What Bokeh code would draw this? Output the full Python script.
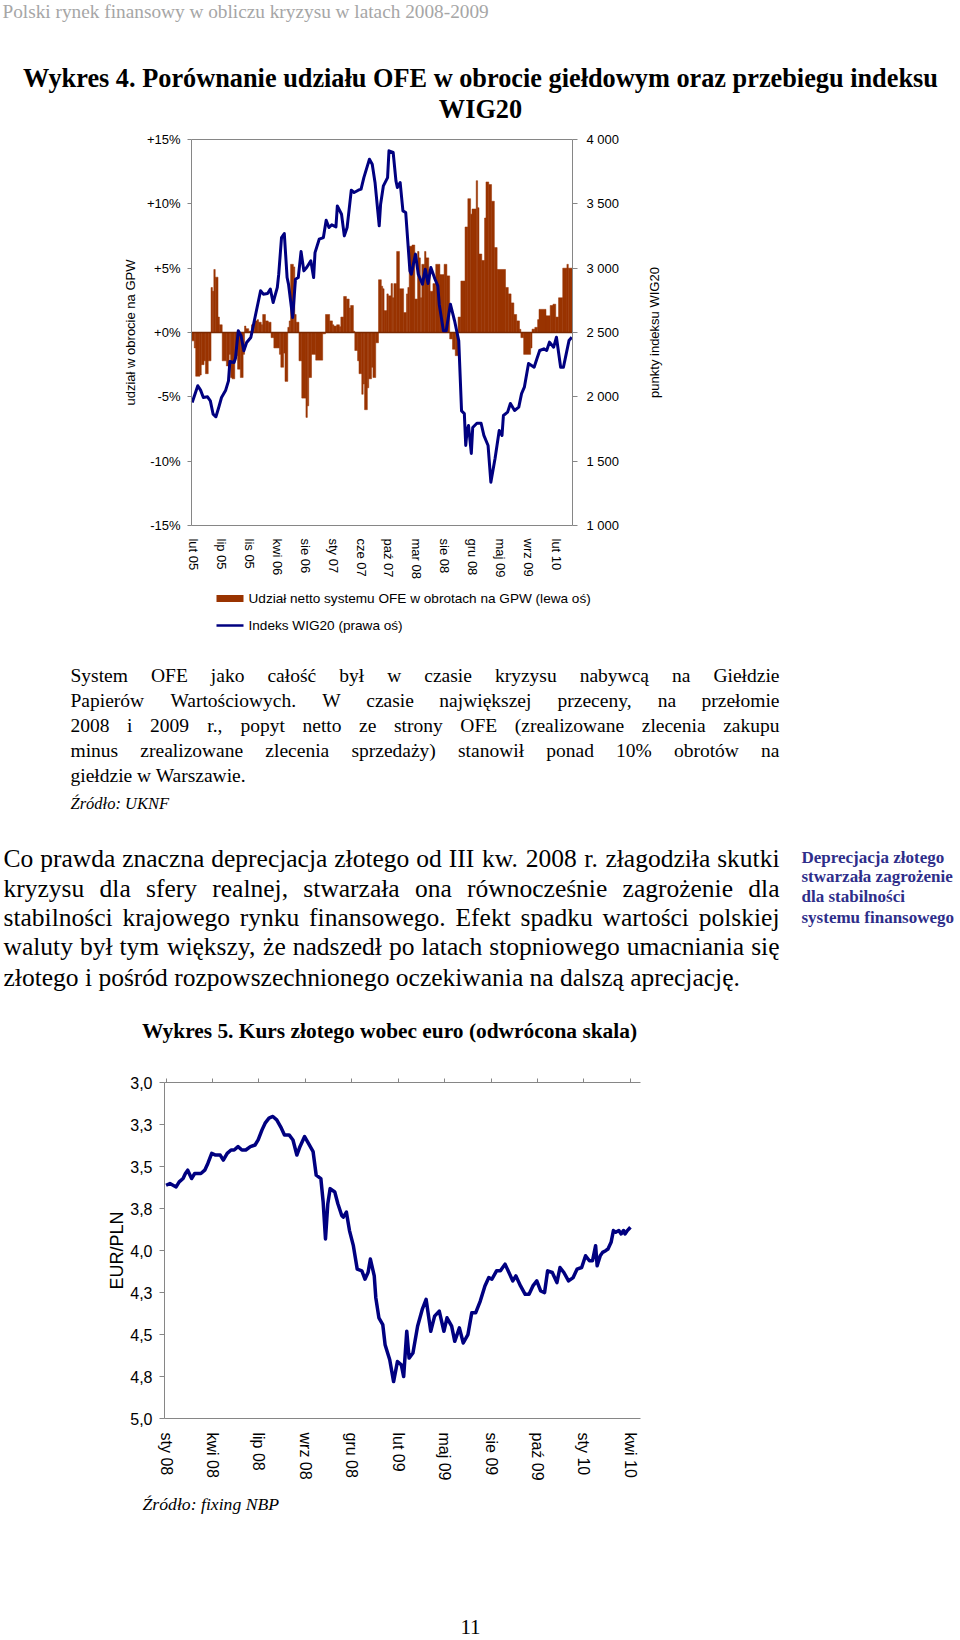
import math
from bokeh.plotting import figure
from bokeh.models import Range1d, LinearAxis, FixedTicker, ColumnDataSource
from bokeh.embed import file_html
from bokeh.resources import INLINE
from bokeh.core.properties import value

# ---------------- DATA ----------------
# Chart 1: weekly category axis (week index from Feb 2005)
X1_LABELS = ["lut 05", "lip 05", "lis 05", "kwi 06", "sie 06", "sty 07", "cze 07",
             "paź 07", "mar 08", "sie 08", "gru 08", "maj 09", "wrz 09", "lut 10"]
N_WEEKS = 273
LEFT_TICKS = [-15, -10, -5, 0, 5, 10, 15]
LEFT_LABELS = ["-15%", "-10%", "-5%", "+0%", "+5%", "+10%", "+15%"]
RIGHT_TICKS = [1000, 1500, 2000, 2500, 3000, 3500, 4000]
RIGHT_LABELS = ["1 000", "1 500", "2 000", "2 500", "3 000", "3 500", "4 000"]

# net share of OFE in GPW turnover (%), step segments: (start week, value)
OFE_SHARE = [(0, -0.65), (2, -1.2), (3, -3.4), (6, -3.3), (7, -2.5), (9, -2.2), (10, -3.2), (12, -2.2),
             (14, 3.5), (15, 3.2), (16, 4.9), (17, 4.3), (19, 1.2), (20, 0.6), (22, -2.2), (25, -2.6),
             (27, -1.7), (28, -3.5), (29, -3.6), (31, -1.8), (33, -2.85), (35, -3.5), (37, -1.7),
             (38, 0.5), (39, 0.3), (41, 0.1), (43, 0.6), (45, 0.9), (47, 1.0), (48, 0.8), (50, 0.6),
             (51, 1.4), (53, 0.9), (55, 0.8), (57, -0.4), (59, -1.2), (63, -1.7), (64, -2.7), (66, -1.6),
             (67, -3.8), (69, 0.4), (70, 0.9), (71, 5.3), (73, 5.1), (74, 1.4), (75, 0.8), (77, -2.2),
             (79, -5.1), (82, -6.6), (83, -5.7), (84, -3.5), (86, -1.7), (89, -2.15), (94, -0.1),
             (96, 1.4), (99, 0.9), (101, 0.6), (102, 0.5), (104, 0.6), (106, 0.45), (107, 1.2),
             (109, 2.8), (111, 2.6), (113, 1.9), (114, 2.1), (116, 0.1), (117, -1.4), (119, -2.2),
             (120, -3.2), (122, -4.8), (123, -4.0), (124, -6.0), (126, -4.3), (127, -3.6), (129, -2.7),
             (130, -3.5), (132, -0.8), (134, 4.1), (136, 3.6), (137, 3.4), (138, 1.7), (140, 3.0),
             (141, 2.85), (143, 3.8), (144, 2.7), (145, 3.8), (147, 6.3), (149, 3.4), (152, 1.55),
             (154, 3.0), (155, 3.5), (156, 6.7), (158, 6.8), (160, 2.6), (162, 6.3), (163, 5.8),
             (164, 2.7), (165, 5.3), (167, 6.3), (168, 5.8), (170, 4.9), (171, 3.2), (173, 3.8),
             (175, 5.3), (178, 4.5), (181, 5.3), (183, 4.4), (185, -0.5), (187, -1.3), (189, -1.8),
             (191, 1.2), (193, 4.0), (196, 8.2), (198, 10.4), (200, 9.2), (201, 9.6), (204, 11.8),
             (205, 9.7), (206, 6.1), (208, 5.6), (210, 8.9), (211, 11.7), (213, 11.5), (215, 10.2),
             (217, 6.6), (219, 4.9), (225, 3.5), (227, 3.0), (229, 2.3), (231, 1.4), (233, 0.9),
             (235, 0.25), (236, -0.4), (238, -1.7), (243, -1.2), (244, 0.26), (246, 0.4), (248, 1.0),
             (249, 1.8), (254, 1.3), (257, 2.1), (259, 2.2), (261, 1.2), (263, 2.7), (266, 5.0),
             (269, 5.3), (270, 5.0)]

# WIG20 index points: (week, level)
WIG20 = [(0, 1956), (4, 2086), (6, 2052), (8, 1995), (11, 2000), (13, 1969), (15, 1865), (17, 1845),
         (19, 1917), (21, 1995), (24, 2052), (26, 2124), (27, 2275), (30, 2267), (31, 2300), (33, 2513),
         (35, 2474), (37, 2358), (39, 2422), (42, 2461), (45, 2617), (49, 2824), (51, 2798), (54, 2803),
         (56, 2837), (58, 2733), (61, 2850), (62, 2953), (64, 3238), (66, 3269), (68, 2927), (69, 2876),
         (72, 2617), (74, 2914), (76, 2927), (78, 3129), (80, 2979), (82, 3005), (85, 3057), (87, 2927),
         (88, 3121), (91, 3225), (94, 3238), (96, 3373), (98, 3316), (100, 3337), (103, 3321),
         (104, 3484), (107, 3419), (109, 3251), (111, 3316), (114, 3606), (116, 3588), (119, 3606),
         (121, 3614), (123, 3704), (127, 3847), (129, 3808), (131, 3666), (134, 3329), (135, 3497),
         (137, 3640), (140, 3704), (141, 3912), (144, 3899), (146, 3678), (147, 3627), (149, 3666),
         (151, 3445), (153, 3432), (156, 2979), (157, 2953), (160, 3109), (162, 2953), (165, 2876),
         (167, 2992), (169, 2881), (171, 3005), (174, 2914), (176, 2863), (177, 2720), (180, 2513),
         (182, 2513), (185, 2720), (188, 2591), (191, 2435), (193, 1891), (195, 1870), (196, 1622),
         (197, 1739), (198, 1777), (200, 1560), (201, 1762), (204, 1795), (207, 1795), (209, 1700),
         (212, 1622), (214, 1337), (217, 1520), (220, 1739), (222, 1700), (223, 1855), (226, 1881),
         (228, 1948), (231, 1894), (234, 1920), (236, 2025), (238, 2075), (241, 2259), (245, 2230),
         (247, 2296), (249, 2360), (252, 2373), (254, 2360), (256, 2425), (259, 2386), (261, 2463),
         (264, 2230), (266, 2230), (268, 2334), (270, 2438), (272, 2463)]

# Chart 2: EUR/PLN fixing, business-day index from Jan 2008
X2_LABELS = ["sty 08", "kwi 08", "lip 08", "wrz 08", "gru 08", "lut 09", "maj 09",
             "sie 09", "paź 09", "sty 10", "kwi 10"]
Y2_TICKS = [3.0, 3.25, 3.5, 3.75, 4.0, 4.25, 4.5, 4.75, 5.0]
Y2_LABELS = ["3,0", "3,3", "3,5", "3,8", "4,0", "4,3", "4,5", "4,8", "5,0"]
EURPLN = [(0, 3.61), (5, 3.60), (9, 3.61), (13, 3.62), (17, 3.59), (22, 3.57), (25, 3.54), (28, 3.52),
          (31, 3.55), (33, 3.57), (37, 3.54), (40, 3.54), (45, 3.54), (50, 3.52), (54, 3.48), (59, 3.42),
          (64, 3.43), (70, 3.43), (74, 3.46), (79, 3.42), (84, 3.40), (88, 3.40), (93, 3.38), (98, 3.40),
          (103, 3.40), (109, 3.38), (115, 3.37), (119, 3.34), (124, 3.28), (128, 3.24), (133, 3.21),
          (138, 3.20), (143, 3.22), (149, 3.27), (153, 3.31), (159, 3.31), (164, 3.34), (169, 3.43),
          (173, 3.38), (179, 3.32), (184, 3.36), (190, 3.41), (194, 3.55), (200, 3.57), (203, 3.71),
          (206, 3.93), (209, 3.72), (212, 3.63), (218, 3.65), (222, 3.72), (227, 3.79), (229, 3.80),
          (233, 3.77), (237, 3.88), (242, 3.97), (247, 4.11), (253, 4.12), (257, 4.17), (261, 4.13),
          (264, 4.05), (269, 4.15), (271, 4.28), (275, 4.40), (280, 4.44), (283, 4.56), (289, 4.65),
          (294, 4.78), (299, 4.66), (304, 4.68), (307, 4.75), (311, 4.48), (314, 4.64), (319, 4.61),
          (325, 4.45), (331, 4.35), (336, 4.29), (342, 4.48), (347, 4.39), (353, 4.36), (359, 4.48),
          (363, 4.40), (369, 4.45), (373, 4.54), (379, 4.46), (384, 4.55), (390, 4.50), (395, 4.37),
          (400, 4.37), (406, 4.30), (412, 4.21), (417, 4.16), (421, 4.17), (427, 4.12), (432, 4.12),
          (438, 4.08), (443, 4.13), (448, 4.18), (452, 4.15), (458, 4.21), (464, 4.26), (469, 4.26),
          (474, 4.21), (479, 4.18), (484, 4.24), (489, 4.25), (493, 4.12), (499, 4.13), (505, 4.19),
          (509, 4.10), (514, 4.13), (520, 4.18), (526, 4.16), (531, 4.11), (537, 4.10), (542, 4.03),
          (547, 4.06), (551, 4.06), (555, 3.97), (557, 4.09), (561, 4.03), (564, 4.01), (568, 4.00),
          (571, 3.99), (575, 3.95), (578, 3.88), (581, 3.89), (585, 3.88), (588, 3.90), (591, 3.88),
          (593, 3.90), (596, 3.88), (600, 3.86)]
N_DAYS_RANGE = (-2, 613)

# ---------------- TEXTS ----------------
HEADER = "Polski rynek finansowy w obliczu kryzysu w latach 2008-2009"
TITLE1 = ["Wykres 4. Porównanie udziału OFE w obrocie giełdowym oraz przebiegu indeksu", "WIG20"]
Y1_TITLE = "udział w obrocie na GPW"
Y1R_TITLE = "punkty indeksu WIG20"
LEG1 = "Udział netto systemu OFE w obrotach na GPW (lewa oś)"
LEG2 = "Indeks WIG20 (prawa oś)"
PARA1 = ["System OFE jako całość był w czasie kryzysu nabywcą na Giełdzie",
         "Papierów Wartościowych. W czasie największej przeceny, na przełomie",
         "2008 i 2009 r., popyt netto ze strony OFE (zrealizowane zlecenia zakupu",
         "minus zrealizowane zlecenia sprzedaży) stanowił ponad 10% obrotów na",
         "giełdzie w Warszawie."]
SRC1 = "Źródło: UKNF"
BODY = ["Co prawda znaczna deprecjacja złotego od III kw. 2008 r. złagodziła skutki",
        "kryzysu dla sfery realnej, stwarzała ona równocześnie zagrożenie dla",
        "stabilności krajowego rynku finansowego. Efekt spadku wartości polskiej",
        "waluty był tym większy, że nadszedł po latach stopniowego umacniania się",
        "złotego i pośród rozpowszechnionego oczekiwania na dalszą aprecjację."]
SIDE = ["Deprecjacja złotego", "stwarzała zagrożenie", "dla stabilności", "systemu finansowego"]
TITLE2 = "Wykres 5. Kurs złotego wobec euro (odwrócona skala)"
Y2_TITLE = "EUR/PLN"
SRC2 = "Źródło: fixing NBP"
PAGE_NO = "11"

# ---------------- STYLE / LAYOUT (canvas pixels) ----------------
W, H = 960, 1640
SANS = "Liberation Sans"
SERIF = "Liberation Serif"
BAR_COLOR = "#993300"
LINE_COLOR = "#000080"
AXIS_GRAY = "#868686"
C1 = dict(x0=191, x1=572, y0=139, y1=525)       # chart 1 plot area
C2 = dict(x0=164, x1=640, y0=1082.4, y1=1418)   # chart 2 plot area

TNR = {" ": 250, "(": 333, ")": 333, ",": 250, "-": 333, ".": 250, "%": 833, ":": 278,
       "A": 722, "B": 667, "C": 667, "D": 722, "E": 611, "F": 556, "G": 722, "H": 722, "I": 333,
       "J": 389, "K": 722, "L": 611, "M": 889, "N": 722, "O": 722, "P": 556, "Q": 722, "R": 667,
       "S": 556, "T": 611, "U": 722, "V": 722, "W": 944, "X": 722, "Y": 722, "Z": 611,
       "a": 444, "b": 500, "c": 444, "d": 500, "e": 444, "f": 333, "g": 500, "h": 500, "i": 278,
       "j": 278, "k": 500, "l": 278, "m": 778, "n": 500, "o": 500, "p": 500, "q": 500, "r": 333,
       "s": 389, "t": 278, "u": 500, "v": 500, "w": 722, "x": 500, "y": 500, "z": 444,
       "ą": 444, "ć": 444, "ę": 444, "ł": 278, "ń": 500, "ó": 500, "ś": 389, "ź": 444, "ż": 444}
for d in "0123456789":
    TNR[d] = 500


def tw(s, fs):
    return sum(TNR.get(c, 500) for c in s) * fs / 1000.0


def xrange_for(px0, px1, v0, v1):
    k = (v1 - v0) / (px1 - px0)
    return Range1d(start=v0 - k * px0, end=v0 + k * (W - px0))


def yrange_for(py0, py1, v0, v1):
    # canvas y grows downward; range start sits at the bottom of the canvas
    k = (v1 - v0) / (py1 - py0)
    return Range1d(start=v0 + k * (H - py0), end=v0 - k * py0)


p = figure(width=W, height=H, x_range=Range1d(0, W), y_range=Range1d(H, 0),
           x_axis_type=None, y_axis_type=None, output_backend="svg",
           toolbar_location=None, min_border=0, outline_line_color=None)
p.background_fill_color = "white"
p.border_fill_color = "white"
p.extra_x_ranges = {"w1": xrange_for(C1["x0"], C1["x1"], -0.5, N_WEEKS - 0.5),
                    "d2": xrange_for(C2["x0"], C2["x1"], N_DAYS_RANGE[0], N_DAYS_RANGE[1])}
p.extra_y_ranges = {"pct": yrange_for(C1["y0"], C1["y1"], 15, -15),
                    "wig": yrange_for(C1["y0"], C1["y1"], 4000, 1000),
                    "eur": yrange_for(C2["y0"], C2["y1"], 3.0, 5.0)}


def txt(x, y, s, size, font=SERIF, style="normal", color="#000000", align="left", angle=0.0):
    p.text(x=[x], y=[y], text=[s], text_font=value(font), text_font_size=value(f"{size}px"),
           text_font_style=style, text_color=color, text_align=align, text_baseline="middle",
           angle=angle)


def justified(lines, x0, x1, ys, fs, font=SERIF, color="#000000"):
    groups = {"left": ([], [], []), "center": ([], [], []), "right": ([], [], [])}
    for k, (line, y) in enumerate(zip(lines, ys)):
        words = line.split(" ")
        if k == len(lines) - 1 or len(words) == 1:
            g = groups["left"]; g[0].append(x0); g[1].append(y); g[2].append(line)
            continue
        ws = [tw(w, fs) for w in words]
        gap = (x1 - x0 - sum(ws)) / (len(words) - 1)
        pos = x0
        for j, (w, wd) in enumerate(zip(words, ws)):
            if j == 0:
                g = groups["left"]; g[0].append(x0)
            elif j == len(words) - 1:
                g = groups["right"]; g[0].append(x1)
            else:
                g = groups["center"]; g[0].append(pos + wd / 2.0)
            g[1].append(y); g[2].append(w)
            pos += wd + gap
    for al, (xs, yv, tt) in groups.items():
        if xs:
            p.text(x=xs, y=yv, text=tt, text_font=value(font), text_font_size=value(f"{fs}px"),
                   text_color=color, text_align=al, text_baseline="middle")


def style_axis(ax, size=13, tick_out=4):
    ax.axis_line_color = AXIS_GRAY
    ax.major_tick_line_color = AXIS_GRAY
    ax.major_tick_out = tick_out
    ax.major_tick_in = 0
    ax.minor_tick_line_color = None
    ax.major_label_text_font = SANS
    ax.major_label_text_font_size = f"{size}px"
    ax.major_label_text_color = "#000000"
    ax.axis_label_text_font = SANS
    ax.axis_label_text_font_style = "normal"
    ax.axis_label_text_color = "#000000"


# ---------------- header + title ----------------
txt(2, 10.5, HEADER, 19.3, color="#a6a6a6")
txt(480, 78, TITLE1[0], 26.3, style="bold", align="center")
txt(480, 108.5, TITLE1[1], 26.3, style="bold", align="center")

# ---------------- chart 1 ----------------
starts = [s for s, _ in OFE_SHARE]
shares = [v for _, v in OFE_SHARE]
ends = starts[1:] + [N_WEEKS]
bsrc = ColumnDataSource(dict(left=[s - 0.5 for s in starts], right=[e - 0.5 for e in ends],
                             top=shares, bottom=[0] * len(shares)))
p.quad(left="left", right="right", top="top", bottom="bottom", source=bsrc,
       x_range_name="w1", y_range_name="pct",
       fill_color=BAR_COLOR, line_color=BAR_COLOR, line_width=0.5)
# zero line of the share axis
p.segment(x0=[-0.5], x1=[N_WEEKS - 0.5], y0=[0], y1=[0], x_range_name="w1", y_range_name="pct",
          line_color="#7a2800", line_width=1.5)

lsrc = ColumnDataSource(dict(x=[w for w, _ in WIG20], y=[v for _, v in WIG20]))
p.line(x="x", y="y", source=lsrc, x_range_name="w1", y_range_name="wig",
       line_color=LINE_COLOR, line_width=3, line_join="round")

ya = LinearAxis(y_range_name="pct", fixed_location=C1["x0"], bounds=(-15, 15))
style_axis(ya)
ya.ticker = FixedTicker(ticks=LEFT_TICKS, minor_ticks=[])
ya.major_label_overrides = dict(zip(LEFT_TICKS, LEFT_LABELS))
ya.major_label_standoff = 7
ya.axis_label = Y1_TITLE
ya.axis_label_text_font_size = "13px"
ya.axis_label_standoff = 6
p.add_layout(ya, "left")

ra = LinearAxis(y_range_name="wig", fixed_location=C1["x1"], bounds=(1000, 4000))
style_axis(ra, tick_out=5)
ra.ticker = FixedTicker(ticks=RIGHT_TICKS, minor_ticks=[])
ra.major_label_overrides = dict(zip(RIGHT_TICKS, RIGHT_LABELS))
ra.major_label_standoff = 9
p.add_layout(ra, "right")
# right axis title, reading upwards like in the original
txt(654, (C1["y0"] + C1["y1"]) / 2.0, Y1R_TITLE, 13, font=SANS, align="center", angle=math.pi / 2)

X1_TICKS = [1 + 20 * k for k in range(len(X1_LABELS))]
xa = LinearAxis(x_range_name="w1", fixed_location=C1["y1"], bounds=(-0.5, N_WEEKS - 0.5))
style_axis(xa, tick_out=0)
xa.major_tick_line_color = None
xa.ticker = FixedTicker(ticks=X1_TICKS, minor_ticks=[])
xa.major_label_overrides = dict(zip(X1_TICKS, X1_LABELS))
xa.major_label_orientation = "vertical"
xa.major_label_standoff = 13
p.add_layout(xa, "below")

ta = LinearAxis(x_range_name="w1", fixed_location=C1["y0"], bounds=(-0.5, N_WEEKS - 0.5))
style_axis(ta, tick_out=0)
ta.major_tick_line_color = None
ta.ticker = FixedTicker(ticks=[], minor_ticks=[])
ta.major_label_text_font_size = "0px"
p.add_layout(ta, "above")

# ---------------- legend, paragraphs ----------------
p.quad(left=[216], right=[243], top=[594.5], bottom=[601.5], fill_color=BAR_COLOR, line_color=None)
p.segment(x0=[216], x1=[243], y0=[625], y1=[625], line_color=LINE_COLOR, line_width=2.5)
txt(248, 598, LEG1, 13.6, font=SANS)
txt(248, 625, LEG2, 13.6, font=SANS)
justified(PARA1, 70, 779, [674.5, 699.6, 724.7, 749.8, 775.0], 19.5)
txt(70, 803, SRC1, 16.5, style="italic")
justified(BODY, 3, 779, [857.6, 887.9, 917.1, 946.4, 976.8], 25.5)
for k, line in enumerate(SIDE):
    txt(801, [856.5, 876.4, 896.3, 917.2][k], line, 17, style="bold", color="#2e2e8a")
txt(389, 1030, TITLE2, 21.4, style="bold", align="center")

# ---------------- chart 2 ----------------
esrc = ColumnDataSource(dict(x=[i for i, _ in EURPLN], y=[v for _, v in EURPLN]))
p.line(x="x", y="y", source=esrc, x_range_name="d2", y_range_name="eur",
       line_color=LINE_COLOR, line_width=3.5, line_join="round")

y2 = LinearAxis(y_range_name="eur", fixed_location=C2["x0"], bounds=(3.0, 5.0))
style_axis(y2, size=16, tick_out=5)
y2.ticker = FixedTicker(ticks=Y2_TICKS, minor_ticks=[])
y2.major_label_overrides = dict(zip(Y2_TICKS, Y2_LABELS))
y2.major_label_standoff = 7
y2.axis_label = Y2_TITLE
y2.axis_label_text_font_size = "18px"
y2.axis_label_standoff = 0
p.add_layout(y2, "left")

X2_TICKS = [60 * k for k in range(len(X2_LABELS))]
x2 = LinearAxis(x_range_name="d2", fixed_location=C2["y1"], bounds=N_DAYS_RANGE)
style_axis(x2, size=16, tick_out=0)
x2.major_tick_line_color = None
x2.ticker = FixedTicker(ticks=X2_TICKS, minor_ticks=[])
x2.major_label_overrides = dict(zip(X2_TICKS, X2_LABELS))
x2.major_label_orientation = "vertical"
x2.major_label_standoff = 14
p.add_layout(x2, "below")

t2 = LinearAxis(x_range_name="d2", fixed_location=C2["y0"], bounds=N_DAYS_RANGE)
style_axis(t2, size=16, tick_out=4)
t2.ticker = FixedTicker(ticks=X2_TICKS, minor_ticks=[])
t2.major_label_overrides = {t: "" for t in X2_TICKS}
t2.major_label_text_font_size = "0px"
t2.major_label_standoff = 0
p.add_layout(t2, "above")

# ---------------- source + page number ----------------
txt(142, 1503, SRC2, 17.7, style="italic")
txt(470, 1626, PAGE_NO, 21, align="center")

open("out.html", "w").write(file_html(p, INLINE))
